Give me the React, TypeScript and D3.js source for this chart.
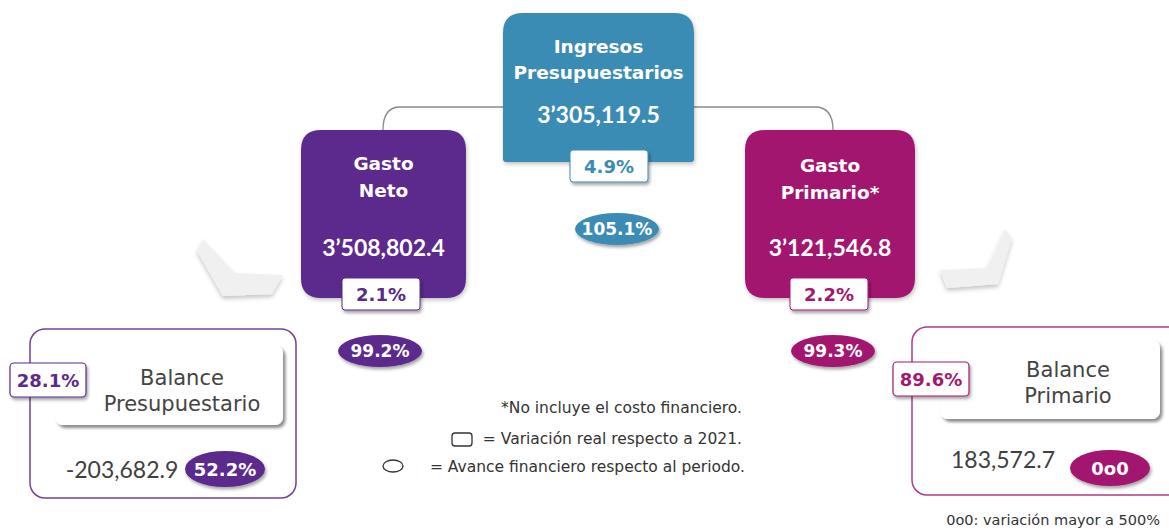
import { useEffect, useRef } from "react";
import * as d3 from "d3";

// main cards
const mainTitles = [["Ingresos", "Presupuestarios"], ["Gasto", "Neto"], ["Gasto", "Primario*"]];
const mainValues = [3305119.5, 3508802.4, 3121546.8];
const mainVariation = [4.9, 2.1, 2.2];
const mainProgress = [105.1, 99.2, 99.3];
const mainColors = ["#3a8cb4", "#5b2a8d", "#a3186f"];

// balances
const balanceTitles = [["Balance", "Presupuestario"], ["Balance", "Primario"]];
const balanceValues = [-203682.9, 183572.7];
const balanceVariation = [28.1, 89.6];
const balanceProgress = [52.2, null];
const balanceColors = ["#5b2a8d", "#a3186f"];
const balanceBorders = ["#6e44a0", "#b53a86"];

const legendLines = ["*No incluye el costo financiero.", "=  Variación real respecto a 2021.", "= Avance financiero respecto al periodo."];
const footnote = "0o0: variación mayor a 500%";

const W = 1169;
const H = 531;
const WIDE = "'DejaVu Sans', Verdana, sans-serif";
const NUMF = "Lato, 'Open Sans', sans-serif";

const locale = d3.formatLocale({ decimal: ".", thousands: ",", grouping: [3], currency: ["$", ""], minus: "-" });
const num = locale.format(",.1f");
const fmtValue = (v: number) => {
  const s = num(v);
  return Math.abs(v) >= 1e6 ? s.replace(",", "\u2019") : s;
};
const pct = (v: number | null) => (v == null ? "0o0" : v.toFixed(1) + "%");

export default function App() {
  const svgRef = useRef<SVGSVGElement | null>(null);

  useEffect(() => {
    const svg = d3.select(svgRef.current);
    svg.selectAll("*").remove();

    const defs = svg.append("defs");
    const shadow = (id: string, dx: number, dy: number, sd: number, op: number) =>
      defs.append("filter").attr("id", id).attr("x", "-20%").attr("y", "-20%").attr("width", "150%").attr("height", "160%")
        .append("feDropShadow").attr("dx", dx).attr("dy", dy).attr("stdDeviation", sd)
        .attr("flood-color", "#000").attr("flood-opacity", op);
    shadow("sh", 1.5, 2.5, 1.5, 0.35);
    shadow("shBox", 1, 2, 2, 0.25);
    shadow("shCard", 2.5, 3, 1.5, 0.45);
    shadow("shChev", 0, 3, 2, 0.22);

    // connectors
    const conn = d3.path();
    conn.moveTo(503, 107); conn.lineTo(400, 107); conn.quadraticCurveTo(383, 107, 383, 130);
    conn.moveTo(694, 107); conn.lineTo(815, 107); conn.quadraticCurveTo(833, 107, 833, 130);
    svg.append("path").attr("d", conn.toString()).attr("fill", "none").attr("stroke", "#8a8a8a").attr("stroke-width", 1.3);

    // chevrons
    const chevrons = [
      [[203, 239], [235, 273], [283, 275], [272, 294], [223, 296], [197, 251]],
      [[940, 270], [987, 268], [1005, 229], [1012, 238], [998, 284], [947, 288]],
    ];
    svg.selectAll("polygon.chev").data(chevrons).join("polygon").attr("class", "chev")
      .attr("points", d => d.map(p => p.join(",")).join(" "))
      .attr("fill", "#f0f0f0").attr("filter", "url(#shChev)");

    const cards = [
      { x: 503, y: 13, w: 191, h: 149, rb: 3, ty: [53, 79], vy: 123, bx: 609, by: 150, ex: 617, ey: 229 },
      { x: 301, y: 130, w: 165, h: 168, rb: 20, ty: [170, 197], vy: 256, bx: 381, by: 278, ex: 380, ey: 351 },
      { x: 745, y: 130, w: 170, h: 168, rb: 20, ty: [172, 199], vy: 256, bx: 829, by: 278, ex: 833, ey: 351 },
    ];

    cards.forEach((c, i) => {
      const g = svg.append("g");
      const r = 20, rb = c.rb;
      const p = d3.path();
      p.moveTo(c.x + r, c.y);
      p.lineTo(c.x + c.w - r, c.y);
      p.quadraticCurveTo(c.x + c.w, c.y, c.x + c.w, c.y + r);
      p.lineTo(c.x + c.w, c.y + c.h - rb);
      p.quadraticCurveTo(c.x + c.w, c.y + c.h, c.x + c.w - rb, c.y + c.h);
      p.lineTo(c.x + rb, c.y + c.h);
      p.quadraticCurveTo(c.x, c.y + c.h, c.x, c.y + c.h - rb);
      p.lineTo(c.x, c.y + r);
      p.quadraticCurveTo(c.x, c.y, c.x + r, c.y);
      p.closePath();
      g.append("path").attr("d", p.toString()).attr("fill", mainColors[i]).attr("filter", "url(#shBox)");
      const cx = c.x + c.w / 2;
      mainTitles[i].forEach((t, j) => {
        g.append("text").attr("x", cx).attr("y", c.ty[j]).attr("text-anchor", "middle")
          .attr("font-family", WIDE).attr("font-weight", 700).attr("font-size", 18.5).attr("fill", "#fff").text(t);
      });
      g.append("text").attr("x", cx).attr("y", c.vy).attr("text-anchor", "middle")
        .attr("font-family", NUMF).attr("font-weight", 700).attr("font-size", 23).attr("fill", "#fff").text(fmtValue(mainValues[i]));
      // variation badge
      g.append("rect").attr("x", c.bx - 39).attr("y", c.by).attr("width", 78).attr("height", 32).attr("rx", 3)
        .attr("fill", "#fff").attr("stroke", mainColors[i]).attr("stroke-width", 1).attr("filter", "url(#sh)");
      g.append("text").attr("x", c.bx).attr("y", c.by + 23).attr("text-anchor", "middle")
        .attr("font-family", WIDE).attr("font-weight", 700).attr("font-size", 18).attr("fill", mainColors[i]).text(pct(mainVariation[i]));
      // progress ellipse
      g.append("ellipse").attr("cx", c.ex).attr("cy", c.ey).attr("rx", 42).attr("ry", 16)
        .attr("fill", mainColors[i]).attr("filter", "url(#sh)");
      g.append("text").attr("x", c.ex).attr("y", c.ey + 6).attr("text-anchor", "middle")
        .attr("font-family", WIDE).attr("font-weight", 700).attr("font-size", 17).attr("fill", "#fff").text(pct(mainProgress[i]));
    });

    const balances = [
      { x: 30, y: 329, w: 266, h: 169, card: [55, 345, 228, 80], tx: 182, ty: [385, 411], bx: 10, by: 363, vx: 122, vy: 478, ex: 225, ey: 469 },
      { x: 912, y: 327, w: 280, h: 168, card: [940, 340, 220, 79], tx: 1068, ty: [377, 403], bx: 893, by: 362, vx: 1003, vy: 468, ex: 1110, ey: 468 },
    ];

    balances.forEach((b, i) => {
      const g = svg.append("g");
      g.append("rect").attr("x", b.x).attr("y", b.y).attr("width", b.w).attr("height", b.h).attr("rx", 15)
        .attr("fill", "#fff").attr("stroke", balanceBorders[i]).attr("stroke-width", 1.5);
      const [cx0, cy0, cw, ch] = b.card;
      g.append("rect").attr("x", cx0).attr("y", cy0).attr("width", cw).attr("height", ch).attr("rx", 8)
        .attr("fill", "#fff").attr("filter", "url(#shCard)");
      balanceTitles[i].forEach((t, j) => {
        g.append("text").attr("x", b.tx).attr("y", b.ty[j]).attr("text-anchor", "middle")
          .attr("font-family", WIDE).attr("font-size", 21).attr("fill", "#444").text(t);
      });
      g.append("rect").attr("x", b.bx).attr("y", b.by).attr("width", 76).attr("height", 34).attr("rx", 4)
        .attr("fill", "#fff").attr("stroke", balanceColors[i]).attr("stroke-width", 1.2).attr("filter", "url(#sh)");
      g.append("text").attr("x", b.bx + 38).attr("y", b.by + 24).attr("text-anchor", "middle")
        .attr("font-family", WIDE).attr("font-weight", 700).attr("font-size", 18).attr("fill", balanceColors[i]).text(pct(balanceVariation[i]));
      g.append("text").attr("x", b.vx).attr("y", b.vy).attr("text-anchor", "middle")
        .attr("font-family", NUMF).attr("font-size", 23).attr("fill", "#404040").text(num(balanceValues[i]));
      g.append("ellipse").attr("cx", b.ex).attr("cy", b.ey).attr("rx", 40).attr("ry", 18)
        .attr("fill", balanceColors[i]).attr("filter", "url(#sh)");
      g.append("text").attr("x", b.ex).attr("y", b.ey + 7).attr("text-anchor", "middle")
        .attr("font-family", WIDE).attr("font-weight", 700).attr("font-size", 18).attr("fill", "#fff").text(pct(balanceProgress[i]));
    });

    // legend
    const lg = svg.append("g").attr("font-family", WIDE).attr("font-size", 15.5).attr("fill", "#333");
    lg.append("text").attr("x", 742).attr("y", 413).attr("text-anchor", "end").text(legendLines[0]);
    lg.append("rect").attr("x", 452).attr("y", 433).attr("width", 20).attr("height", 13).attr("rx", 3)
      .attr("fill", "#fff").attr("stroke", "#333").attr("stroke-width", 1.3);
    lg.append("text").attr("x", 742).attr("y", 444).attr("text-anchor", "end").text(legendLines[1]);
    lg.append("ellipse").attr("cx", 393).attr("cy", 466).attr("rx", 10).attr("ry", 6)
      .attr("fill", "#fff").attr("stroke", "#333").attr("stroke-width", 1.3);
    lg.append("text").attr("x", 745).attr("y", 472).attr("text-anchor", "end").text(legendLines[2]);

    svg.append("text").attr("x", 1160).attr("y", 525).attr("text-anchor", "end")
      .attr("font-family", WIDE).attr("font-size", 14.5).attr("fill", "#333").text(footnote);
  }, []);

  return (
    <div style={{ position: "absolute", left: 0, top: 0, width: W, height: H, background: "#fff" }}>
      <svg ref={svgRef} width={W} height={H}></svg>
    </div>
  );
}
